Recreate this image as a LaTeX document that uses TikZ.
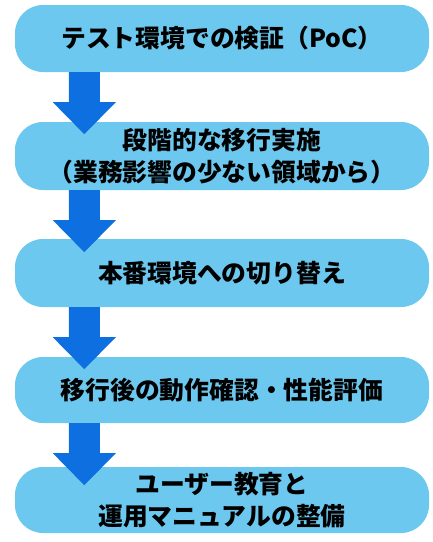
\documentclass[tikz,border=0pt]{standalone}
\usepackage{fontspec}
\newfontfamily\jp{Noto Sans CJK JP}
\usetikzlibrary{calc}
\definecolor{boxc}{RGB}{108,200,238}
\definecolor{arrc}{RGB}{14,111,224}
\tikzset{
  stepbox/.style={fill=boxc, draw=none, rounded corners=28pt, minimum width=414pt, minimum height=67pt,
    align=center, inner sep=0pt, font=\jp\bfseries\fontsize{24.8}{32.5}\selectfont, text=black},
  blockarrow/.style={fill=arrc, draw=none}
}
\newcommand{\flowarrow}[1]{%
  \fill[blockarrow] ($(#1.south west)+(54,0)$) -- ++(31,0) -- ++(0,30) -- ++(16,0)
    -- ++(-31.5,32) -- ++(-31.5,-32) -- ++(16,0) -- cycle;}
\begin{document}
\begin{tikzpicture}[x=1pt,y=-1pt]
\useasboundingbox (0,0) rectangle (433,542);
\node[stepbox] (b1) at (222,38.5) {テスト環境での検証（PoC）};
\node[stepbox, minimum height=68pt] (b2) at (222,156) {段階的な移行実施\\（業務影響の少ない領域から）};
\node[stepbox, minimum height=68pt] (b3) at (222,273) {本番環境への切り替え};
\node[stepbox, minimum height=66pt] (b4) at (222,390) {移行後の動作確認・性能評価};
\node[stepbox, minimum height=66pt] (b5) at (222,500) {ユーザー教育と\\運用マニュアルの整備};
\flowarrow{b1}
\flowarrow{b2}
\flowarrow{b3}
\flowarrow{b4}
\end{tikzpicture}
\end{document}
